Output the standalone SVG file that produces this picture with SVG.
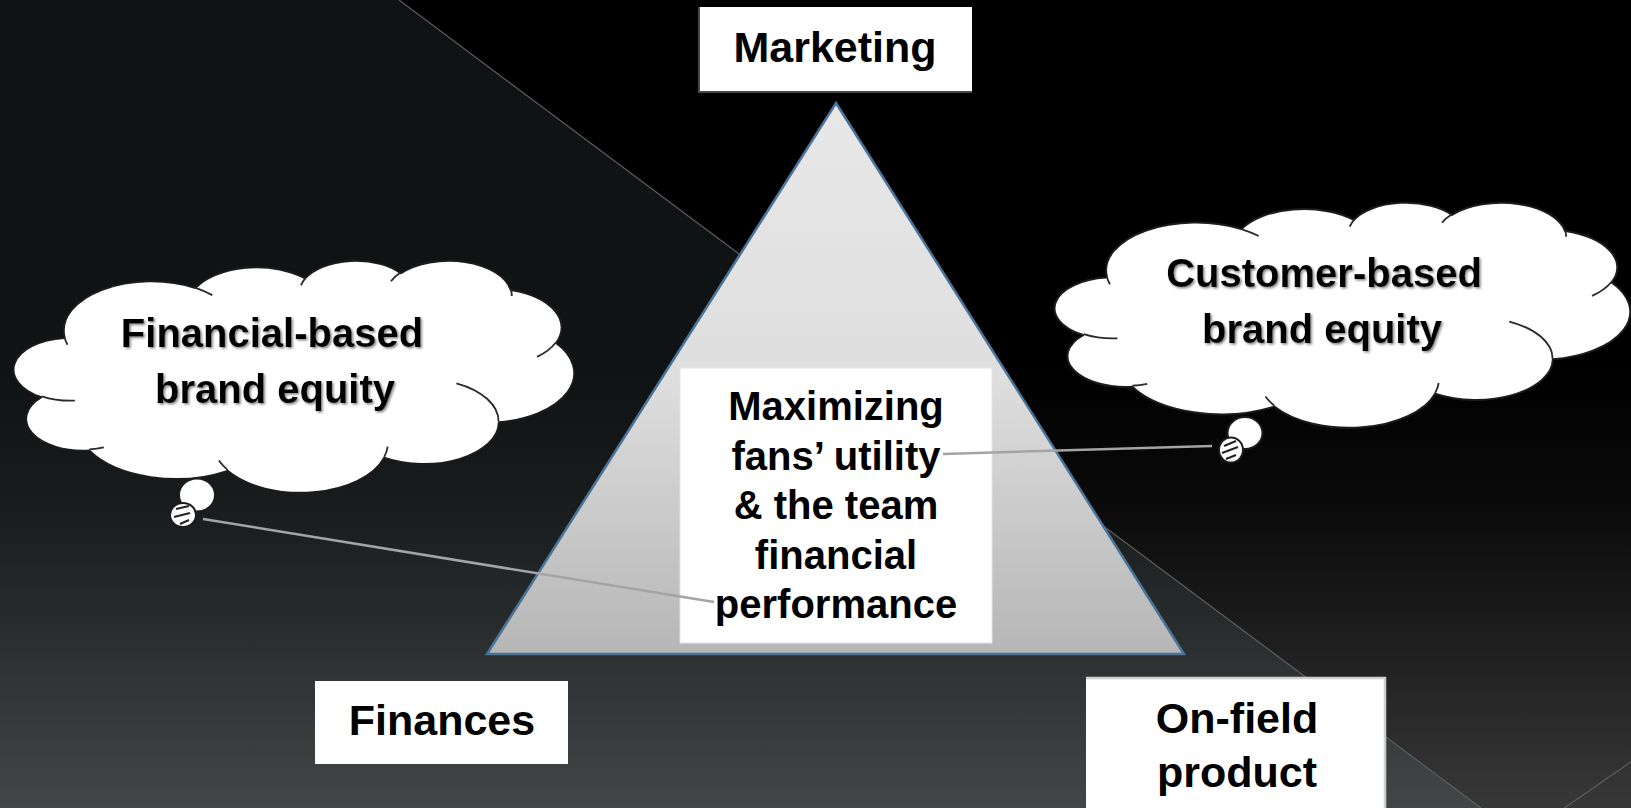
<svg xmlns="http://www.w3.org/2000/svg" width="1631" height="808" viewBox="0 0 1631 808">
<style>
.t{font-family:"Liberation Sans",Arial,Helvetica,sans-serif;font-weight:bold;fill:#000;text-anchor:middle}
.t43{font-size:43px}
.t40{font-size:40px}
.cloud{fill:#fff;stroke:#1c1c1c;stroke-width:2;stroke-linejoin:round}
.inner{fill:none;stroke:#2a2a2a;stroke-width:1.8}
.bub{fill:#fff;stroke:#1c1c1c;stroke-width:2}
.bgline{stroke:#5e5e5e;stroke-width:1.2;fill:none}
.conn{stroke:#a4a4a4;stroke-width:2.5;fill:none}
.box{fill:#fff}
</style>
<defs>
<linearGradient id="bg" x1="0" y1="0" x2="0" y2="808" gradientUnits="userSpaceOnUse">
<stop offset="0" stop-color="#000"/>
<stop offset="0.45" stop-color="#000"/>
<stop offset="0.62" stop-color="#0a0a0a"/>
<stop offset="0.8" stop-color="#1f1f1f"/>
<stop offset="1" stop-color="#383838"/>
</linearGradient>
<linearGradient id="tri" x1="0" y1="103" x2="0" y2="654" gradientUnits="userSpaceOnUse">
<stop offset="0" stop-color="#e8e8e8"/>
<stop offset="0.5" stop-color="#dedede"/>
<stop offset="1" stop-color="#b6b6b6"/>
</linearGradient>
<filter id="sh" x="-10%" y="-20%" width="120%" height="140%">
<feDropShadow dx="1.5" dy="1.5" stdDeviation="0.8" flood-color="#777" flood-opacity="0.9"/>
</filter>
</defs>

<g id="background">
<rect x="0" y="0" width="1631" height="808" fill="url(#bg)"/>
<polygon points="0,0 399,0 1481,808 0,808" fill="#d0f0f0" fill-opacity="0.08"/>
<line class="bgline" x1="399" y1="0" x2="1481" y2="808"/>
<line class="bgline" x1="1648" y1="750" x2="1560" y2="811" stroke="#6a6a6a"/>
</g>

<g id="triangle">
<polygon points="836,103 1184,654 487,654" fill="url(#tri)" stroke="#4a7399" stroke-width="2.5" stroke-linejoin="miter"/>
</g>

<g id="center-box">
<rect class="box" x="680" y="368" width="312" height="275" stroke="#e4e4e4" stroke-width="1"/>
<text class="t t40" x="836" y="420">Maximizing</text>
<text class="t t40" x="836" y="469.5">fans’ utility</text>
<text class="t t40" x="836" y="519">&amp; the team</text>
<text class="t t40" x="836" y="568.5">financial</text>
<text class="t t40" x="836" y="618">performance</text>
</g>

<g id="cloud-financial">
<g transform="translate(14,260) scale(0.012963,0.0053704)">
<path class="cloud" vector-effect="non-scaling-stroke" d="M3900,14370 A6753,9190 0 0 1 14005,5202 A5333,7267 0 0 1 22456,3432 A4365,5945 0 0 1 29831,2476 A4857,6595 0 0 1 38316,5571 A5333,7273 0 0 1 41816,15455 A6775,9220 0 0 1 37404,30201 A5785,7867 0 0 1 28555,36811 A6752,9215 0 0 1 16480,39265 A7720,10543 0 0 1 5803,35470 A4360,5918 0 0 1 2112,25549 A4345,5945 0 0 1 3862,14506 Z"/>
<path class="inner" vector-effect="non-scaling-stroke" d="M4693,26177 A4345,5945 0 0 1 2159,25380 M6928,34899 A4360,5918 0 0 1 5819,35281 M16478,39090 A6752,9215 0 0 1 15809,37348 M28827,34751 A6752,9215 0 0 1 28560,36659 M34129,22954 A5785,7867 0 0 1 37381,30090 M41798,15354 A5333,7273 0 0 1 40349,18031 M38324,5426 A4857,6595 0 0 1 38400,6689 M29078,3952 A4857,6595 0 0 1 29820,2340 M22141,4720 A4365,5945 0 0 1 22500,3331 M14000,5192 A6753,9190 0 0 1 15300,6541 M4127,15789 A6753,9190 0 0 1 3900,14372"/>
</g>
<ellipse class="bub" cx="197" cy="495" rx="18" ry="16.5"/>
<ellipse class="bub" cx="183" cy="515" rx="13" ry="12"/>
<path d="M176,509 L189,506 M174,517 L190,513 M180,524 L189,520" stroke="#222" stroke-width="2" fill="none"/>
<text class="t t40" x="272" y="347" filter="url(#sh)">Financial-based</text>
<text class="t t40" x="275" y="403" filter="url(#sh)">brand equity</text>
</g>

<g id="cloud-customer">
<g transform="translate(1055,202) scale(0.01331,0.0052083)">
<path class="cloud" vector-effect="non-scaling-stroke" d="M3900,14370 A6753,9190 0 0 1 14005,5202 A5333,7267 0 0 1 22456,3432 A4365,5945 0 0 1 29831,2476 A4857,6595 0 0 1 38316,5571 A5333,7273 0 0 1 41816,15455 A6775,9220 0 0 1 37404,30201 A5785,7867 0 0 1 28555,36811 A6752,9215 0 0 1 16480,39265 A7720,10543 0 0 1 5803,35470 A4360,5918 0 0 1 2112,25549 A4345,5945 0 0 1 3862,14506 Z"/>
<path class="inner" vector-effect="non-scaling-stroke" d="M4693,26177 A4345,5945 0 0 1 2159,25380 M6928,34899 A4360,5918 0 0 1 5819,35281 M16478,39090 A6752,9215 0 0 1 15809,37348 M28827,34751 A6752,9215 0 0 1 28560,36659 M34129,22954 A5785,7867 0 0 1 37381,30090 M41798,15354 A5333,7273 0 0 1 40349,18031 M38324,5426 A4857,6595 0 0 1 38400,6689 M29078,3952 A4857,6595 0 0 1 29820,2340 M22141,4720 A4365,5945 0 0 1 22500,3331 M14000,5192 A6753,9190 0 0 1 15300,6541 M4127,15789 A6753,9190 0 0 1 3900,14372"/>
</g>
<ellipse class="bub" cx="1245" cy="433" rx="17.5" ry="16"/>
<ellipse class="bub" cx="1231" cy="450" rx="12" ry="12.5"/>
<path d="M1224,446 L1236,441 M1222,453 L1238,447 M1226,459 L1236,455" stroke="#222" stroke-width="2" fill="none"/>
<text class="t t40" x="1324" y="287" filter="url(#sh)">Customer-based</text>
<text class="t t40" x="1322" y="343" filter="url(#sh)">brand equity</text>
</g>

<g id="connectors">
<line class="conn" x1="203" y1="519" x2="714" y2="602"/>
<line class="conn" x1="943" y1="454" x2="1212" y2="446"/>
</g>

<g id="marketing">
<rect class="box" x="699" y="7" width="273" height="85"/>
<path d="M699,7 V92 H972" stroke="#484848" stroke-width="2" fill="none"/>
<text class="t t43" x="835" y="62">Marketing</text>
</g>

<g id="finances">
<rect class="box" x="315" y="681" width="253" height="83"/>
<text class="t t43" x="442" y="735">Finances</text>
</g>

<g id="on-field">
<rect class="box" x="1086" y="677" width="300" height="135"/>
<path d="M1086,678 H1385 V812" stroke="#cfcfcf" stroke-width="2.5" fill="none"/>
<text class="t t43" x="1237" y="733">On-field</text>
<text class="t t43" x="1237" y="787">product</text>
</g>
</svg>
